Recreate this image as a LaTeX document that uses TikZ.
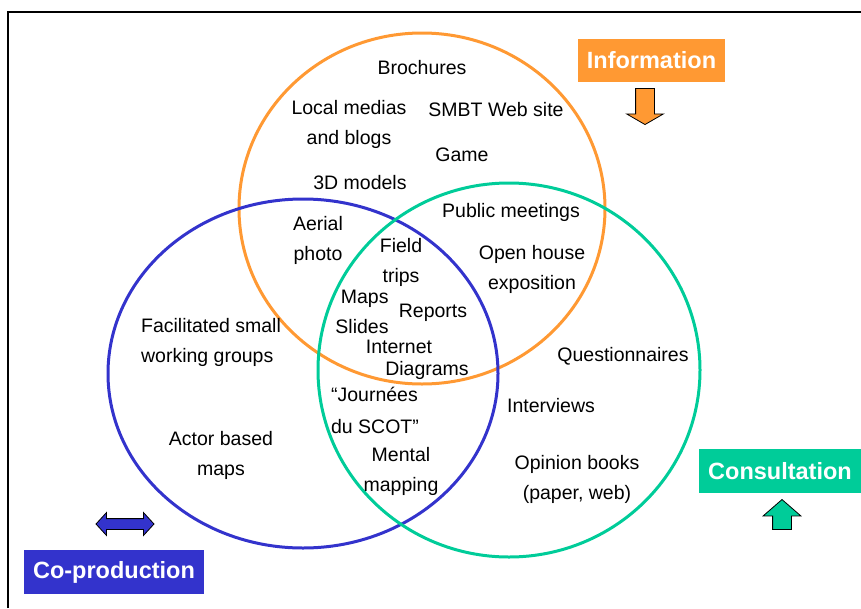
\documentclass[tikz,border=0pt]{standalone}
\usepackage{fontspec}
\setmainfont{Liberation Sans}
\usetikzlibrary{shapes}
\definecolor{infoorange}{HTML}{FF9933}
\definecolor{consgreen}{HTML}{00CC99}
\definecolor{coblue}{HTML}{3333CC}

\begin{document}
\begin{tikzpicture}[x=1pt,y=-1pt,
        every node/.style={font=\fontsize{19.5}{30}\selectfont},
        entry/.style={align=center,inner sep=0pt},
        venn/.style={ellipse,draw=#1,line width=3pt,inner sep=0pt},
        headbox/.style={fill=#1,text=white,inner sep=0pt,font=\fontsize{23.5}{28}\selectfont\bfseries},
        sarrow/.style={single arrow,draw=black,fill=#1,inner xsep=0pt,inner ysep=9pt,line width=0.8pt}]
        \useasboundingbox (0,0) rectangle (861,608);
        % frame
        \draw[line width=2.5pt] (8,608) -- (8,12) -- (861,12);
        % the three sets
        \node[venn=infoorange,minimum width=366,minimum height=351] (info) at (422,208.5) {};
        \node[venn=coblue,minimum width=390,minimum height=349]     (coprod) at (303,373.5) {};
        \node[venn=consgreen,minimum width=382,minimum height=374]  (consult) at (509,370) {};
        % tools
        \node[entry] (brochures) at (422,68)  {Brochures};
        \node[entry] (medias)    at (349,124) {Local medias\\and blogs};
        \node[entry] (website)   at (496,110) {SMBT Web site};
        \node[entry] (game)      at (462,155) {Game};
        \node[entry] (models)    at (360,183) {3D models};
        \node[entry] (aerial)    at (318,240) {Aerial\\photo};
        \node[entry] (meetings)  at (511,212) {Public meetings};
        \node[entry] (trips)     at (401,262) {Field\\trips};
        \node[entry] (expo)      at (532,269) {Open house\\exposition};
        \node[entry,align=right] (maps) at (362,312) {Maps\\Slides};
        \node[entry] (reports)   at (433,313) {Reports};
        \node[entry] (internet)  at (399,347) {Internet};
        \node[entry] (diagrams)  at (427,370) {Diagrams};
        \node[entry,align=left] (groups) at (211,342) {Facilitated small\\working groups};
        \node[entry] (actor)     at (221,455) {Actor based\\maps};
        \node[entry,align=left,font=\fontsize{19.5}{32}\selectfont] (journees) at (375,410) {“Journées\\du SCOT”};
        \node[entry] (mental)    at (401,471) {Mental\\mapping};
        \node[entry] (questions) at (623,356) {Questionnaires};
        \node[entry] (interviews) at (551,406) {Interviews};
        \node[entry] (opinion)   at (577,479) {Opinion books\\(paper, web)};
        % headings and arrows
        \node[headbox=infoorange,minimum width=147,minimum height=43] (infohead) at (651.5,60.5) {Information};
        \node[headbox=consgreen,minimum width=162,minimum height=44] (conshead) at (780,471) {Consultation};
        \node[headbox=coblue,minimum width=180,minimum height=44]    (cohead) at (114,572) {Co-production};
        \node[sarrow=infoorange,rotate=-90,anchor=tip,minimum height=36,
              single arrow head extend=9,single arrow tip angle=120] (infoarrow) at (645,125) {};
        \node[sarrow=consgreen,rotate=90,anchor=tip,minimum height=30,
              single arrow head extend=9.5,single arrow tip angle=98] (consarrow) at (782,499) {};
        \node[double arrow,draw=black,fill=coblue,inner xsep=0pt,inner ysep=5pt,line width=0.8pt,
              minimum height=58,double arrow head extend=6,
              double arrow tip angle=95] (coarrow) at (125,524) {};
\end{tikzpicture}
\end{document}
